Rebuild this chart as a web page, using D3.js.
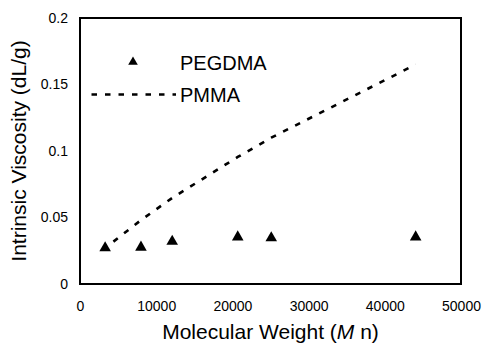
<!DOCTYPE html>
<html>
<head>
<meta charset="utf-8">
<script src="https://d3js.org/d3.v7.min.js"></script>
<style>
	body { margin: 0; background: #fff; }
	text { font-family: "Liberation Sans", Arial, sans-serif; fill: #000; }
</style>
</head>
<body>
<div id="chart"></div>
<script>
var mn = [3300, 8000, 12100, 20700, 25100, 44050];
var pegdma = [0.0272, 0.0276, 0.032, 0.0353, 0.0346, 0.0353];
var pmma = [0.027, 0.048, 0.0647, 0.0955, 0.11, 0.165];
var xTicks = [0, 10000, 20000, 30000, 40000, 50000];
var yTicks = [0, 0.05, 0.1, 0.15, 0.2];
var yTickLabels = ["0", "0.05", "0.1", "0.15", "0.2"];

var width = 483, height = 349;
var margin = {left: 80, top: 18, right: 22, bottom: 65};

var svg = d3.select("#chart").append("svg")
	.attr("width", width)
	.attr("height", height);

var x = d3.scaleLinear().domain([0, 50000]).range([margin.left, width - margin.right]);
var y = d3.scaleLinear().domain([0, 0.2]).range([height - margin.bottom, margin.top]);

// tick labels only, no tick marks
svg.append("g")
	.attr("transform", "translate(0," + (height - margin.bottom) + ")")
	.call(d3.axisBottom(x).tickValues(xTicks).tickFormat(d3.format("d")).tickSize(0).tickPadding(17))
	.call(function(g) { g.select(".domain").remove(); })
	.selectAll("text")
	.style("font-size", "14px")
	.style("font-family", "Liberation Sans, Arial, sans-serif")
	.attr("fill", "#000");

svg.append("g")
	.attr("transform", "translate(" + margin.left + ",0)")
	.call(d3.axisLeft(y).tickValues(yTicks).tickFormat(function(d, i) { return yTickLabels[i]; }).tickSize(0).tickPadding(12))
	.call(function(g) { g.select(".domain").remove(); })
	.selectAll("text")
	.style("font-size", "14px")
	.style("font-family", "Liberation Sans, Arial, sans-serif")
	.attr("fill", "#000");

// plot frame
svg.append("rect")
	.attr("x", x(0))
	.attr("y", y(0.2))
	.attr("width", x(50000) - x(0))
	.attr("height", y(0) - y(0.2))
	.attr("fill", "none")
	.attr("stroke", "#000")
	.attr("stroke-width", 2);

var line = d3.line()
	.x(function(d, i) { return x(mn[i]); })
	.y(function(d) { return y(d); });

svg.append("path")
	.datum(pmma)
	.attr("d", line)
	.attr("fill", "none")
	.attr("stroke", "#000")
	.attr("stroke-width", 2.6)
	.attr("stroke-dasharray", "5.5,8")
	.attr("stroke-dashoffset", 3);

var tri = d3.symbol().type(d3.symbolTriangle).size(58);
svg.append("g").selectAll("path")
	.data(pegdma)
	.enter()
	.append("path")
	.attr("d", tri)
	.attr("transform", function(d, i) { return "translate(" + x(mn[i]) + "," + y(d) + ")"; })
	.attr("fill", "#000");

// legend
var legend = svg.append("g");
legend.append("path")
	.attr("d", d3.symbol().type(d3.symbolTriangle).size(40))
	.attr("transform", "translate(133,62)")
	.attr("fill", "#000");
legend.append("text")
	.attr("x", 180).attr("y", 69.5)
	.style("font-size", "20px")
	.text("PEGDMA");
legend.append("line")
	.attr("x1", 91.5).attr("x2", 176)
	.attr("y1", 94.5).attr("y2", 94.5)
	.attr("stroke", "#000")
	.attr("stroke-width", 2.6)
	.attr("stroke-dasharray", "5.5,8");
legend.append("text")
	.attr("x", 180).attr("y", 101.7)
	.style("font-size", "20px")
	.text("PMMA");

// axis titles
var xt = svg.append("text")
	.attr("x", (x(0) + x(50000)) / 2)
	.attr("y", 339)
	.attr("text-anchor", "middle")
	.style("font-size", "21px");
xt.append("tspan").text("Molecular Weight (");
xt.append("tspan").style("font-style", "italic").text("M");
xt.append("tspan").text(" n)");

svg.append("text")
	.attr("transform", "translate(26," + ((y(0) + y(0.2)) / 2) + ") rotate(-90)")
	.attr("text-anchor", "middle")
	.style("font-size", "21px")
	.text("Intrinsic Viscosity (dL/g)");
</script>
</body>
</html>
